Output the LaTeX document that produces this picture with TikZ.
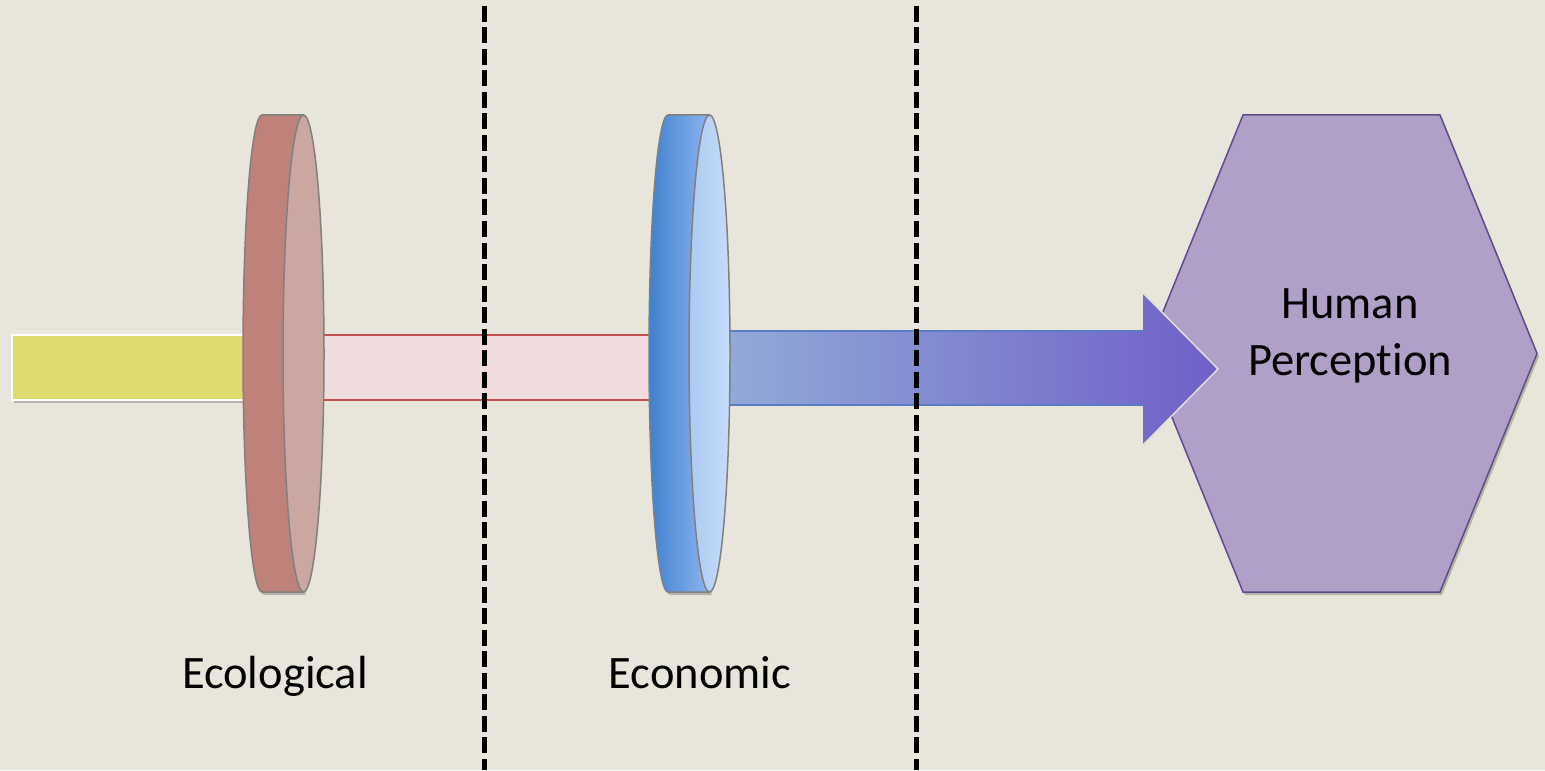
\documentclass[tikz,border=0pt]{standalone}
\usepackage{fontspec}
\setmainfont{Carlito}[Ligatures={NoCommon}]
\usetikzlibrary{shadows}
\definecolor{bg}{HTML}{E8E6DA}
\definecolor{yellowbar}{HTML}{DEDC6E}
\definecolor{redbody}{HTML}{BF827B}
\definecolor{redfront}{HTML}{CCA6A1}
\definecolor{pinkbar}{HTML}{F0DCDC}
\definecolor{pinkline}{HTML}{C0504D}
\definecolor{blueL}{HTML}{3F80D1}
\definecolor{blueR}{HTML}{8CB5EF}
\definecolor{bluefrontL}{HTML}{ADCAF2}
\definecolor{bluefrontR}{HTML}{C4DCFC}
\definecolor{arrL}{HTML}{93AED8}
\definecolor{arrR}{HTML}{6F60C8}
\definecolor{arrline}{HTML}{5A7CC4}
\definecolor{hexfill}{HTML}{B0A0C8}
\definecolor{hexline}{HTML}{5F4B8B}
\definecolor{lensline}{HTML}{808080}
\tikzset{
  lbl/.style={font=\fontsize{23.25}{28.4}\selectfont, text=black, inner sep=0pt},
  softshadow/.style={drop shadow={shadow xshift=1pt, shadow yshift=-1.5pt, opacity=0.22, fill=black}},
  lensedge/.style={draw=lensline, line width=0.75pt},
  divider/.style={draw=black, line width=2.5pt, dash pattern=on 8pt off 2.75pt}
}
\begin{document}
\begin{tikzpicture}[x=0.5pt,y=-0.5pt]
\fill[bg] (0,0) rectangle (1545,770);
\useasboundingbox (0,0) rectangle (1545,770);

% yellow input bar
\path[fill=yellowbar, draw=white, line width=0.75pt, softshadow] (12,335) rectangle (262,400);

% pink bar between lenses
\fill[pinkbar] (303,335) rectangle (668,400);
\draw[pinkline, line width=0.75pt] (303,335) -- (668,335) (303,400) -- (668,400);

% ecological lens (red)
\path[fill=redbody, lensedge, softshadow] (262,115) -- (303.5,115) -- (303.5,592) -- (262,592)
  arc[start angle=90, end angle=270, x radius=19, y radius=238.5] -- cycle;
\path[fill=redfront, lensedge] (303.5,353.5) ellipse [x radius=20.5, y radius=238.5];

% hexagon
\path[fill=hexfill, draw=hexline, line width=0.75pt, softshadow]
  (1243,115) -- (1440,115) -- (1537,353.5) -- (1440,592) -- (1243,592) -- (1146,353.5) -- cycle;

% blue arrow
\path[left color=arrL, right color=arrR]
  (700,331) -- (1143,331) -- (1143,293) -- (1218,369) -- (1143,445) -- (1143,405) -- (700,405) -- cycle;
\draw[arrline, line width=0.75pt] (700,331) -- (1143,331) (700,405) -- (1143,405);
\draw[white!75!gray, line width=0.75pt] (1143,293) -- (1218,369) -- (1143,445);

% economic lens (blue)
\path[left color=blueL, right color=blueR, lensedge, softshadow] (668,115) -- (709.5,115) -- (709.5,592) -- (668,592)
  arc[start angle=90, end angle=270, x radius=19, y radius=238.5] -- cycle;
\path[left color=bluefrontL, right color=bluefrontR, lensedge] (709.5,353.5) ellipse [x radius=20.5, y radius=238.5];

% dividers
\coordinate (d1t) at (484,6);
\coordinate (d1b) at (484,770);
\coordinate (d2t) at (916,6);
\coordinate (d2b) at (916,770);
\draw[divider] (d1t) -- (d1b);
\draw[divider] (d2t) -- (d2b);

% labels
\node[lbl, align=center] (hp) at (1350,336) {Human\\Perception};
\node[lbl, anchor=base] (eco) at (275,688) {Ecological};
\node[lbl, anchor=base] (econ) at (700,688) {Economic};
\end{tikzpicture}
\end{document}
